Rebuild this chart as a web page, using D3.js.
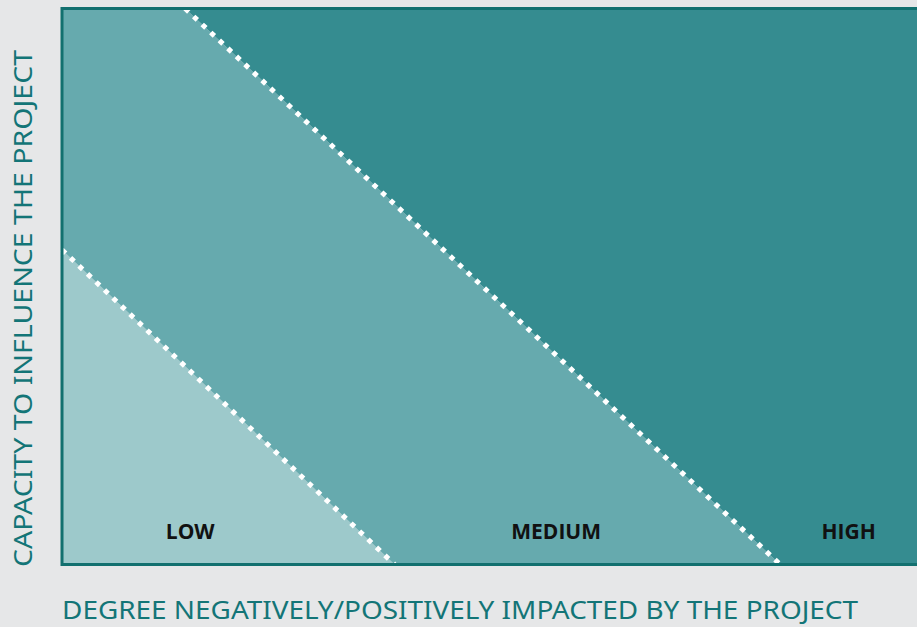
<!DOCTYPE html>
<html>
<head>
<meta charset="utf-8">
<script src="https://cdn.jsdelivr.net/npm/d3@7"></script>
<style>
  html, body { margin: 0; padding: 0; background: #e6e7e8; }
  svg { display: block; }
</style>
</head>
<body>
<svg id="chart"></svg>
<script>
// zones, left to right
const zoneNames = ["LOW", "MEDIUM", "HIGH"];
const zoneColors = ["#9dc9cb", "#66aaae", "#358c90"];
// label x position (in % of impact axis)
const labelX = [15.0, 57.8, 92];
// boundaries between zones, [x, y] in % of each axis
const lowMedTop = [0, 56.6];
const lowMedBottom = [38.9, 0];
const medHighTop = [14.4, 100];
const medHighBottom = [84.0, 0];

const xTitle = "DEGREE NEGATIVELY/POSITIVELY IMPACTED BY THE PROJECT";
const yTitle = "CAPACITY TO INFLUENCE THE PROJECT";

const width = 917, height = 627;
const margin = { top: 8.5, right: 0, bottom: 62.5, left: 62 };

const svg = d3.select("#chart")
  .attr("width", width)
  .attr("height", height);

const x = d3.scaleLinear().domain([0, 100]).range([margin.left, width - margin.right]);
const y = d3.scaleLinear().domain([0, 100]).range([height - margin.bottom, margin.top]);

const line = d3.line().x(d => x(d[0])).y(d => y(d[1]));

// zone polygons
const zones = [
  [[0, 0], lowMedTop, lowMedBottom],
  [lowMedTop, [0, 100], medHighTop, medHighBottom, lowMedBottom],
  [medHighTop, [100, 100], [100, 0], medHighBottom]
];

svg.append("g")
  .selectAll("path")
  .data(zones)
  .enter()
  .append("path")
  .attr("d", d => line(d) + "Z")
  .attr("fill", (d, i) => zoneColors[i]);

// dotted boundaries
svg.append("g")
  .selectAll("path")
  .data([[lowMedTop, lowMedBottom], [medHighTop, medHighBottom]])
  .enter()
  .append("path")
  .attr("d", line)
  .attr("fill", "none")
  .attr("stroke", "white")
  .attr("stroke-width", 5)
  .attr("stroke-dasharray", "5 6.7");

// frame (no right edge, the chart bleeds off the page)
svg.append("rect")
  .attr("x", x(0))
  .attr("y", y(100))
  .attr("width", x(100) - x(0) + 10)
  .attr("height", y(0) - y(100))
  .attr("fill", "none")
  .attr("stroke", "#12706f")
  .attr("stroke-width", 3);

// zone labels
svg.append("g")
  .selectAll("text")
  .data(zoneNames)
  .enter()
  .append("text")
  .attr("x", (d, i) => x(labelX[i]))
  .attr("y", y(0) - 26)
  .attr("text-anchor", "middle")
  .style("font-family", "'Open Sans', sans-serif")
  .style("font-weight", "bold")
  .style("font-size", "21px")
  .attr("fill", "#111")
  .text(d => d);

// axis titles
svg.append("text")
  .attr("x", x(0))
  .attr("y", 619)
  .attr("textLength", 796)
  .attr("lengthAdjust", "spacingAndGlyphs")
  .style("font-family", "'Noto Sans', sans-serif")
  .style("font-size", "25px")
  .attr("fill", "#137577")
  .text(xTitle);

svg.append("text")
  .attr("transform", "translate(32,567) rotate(-90)")
  .attr("textLength", 517)
  .attr("lengthAdjust", "spacingAndGlyphs")
  .style("font-family", "'Noto Sans', sans-serif")
  .style("font-size", "26px")
  .attr("fill", "#137577")
  .text(yTitle);
</script>
</body>
</html>
